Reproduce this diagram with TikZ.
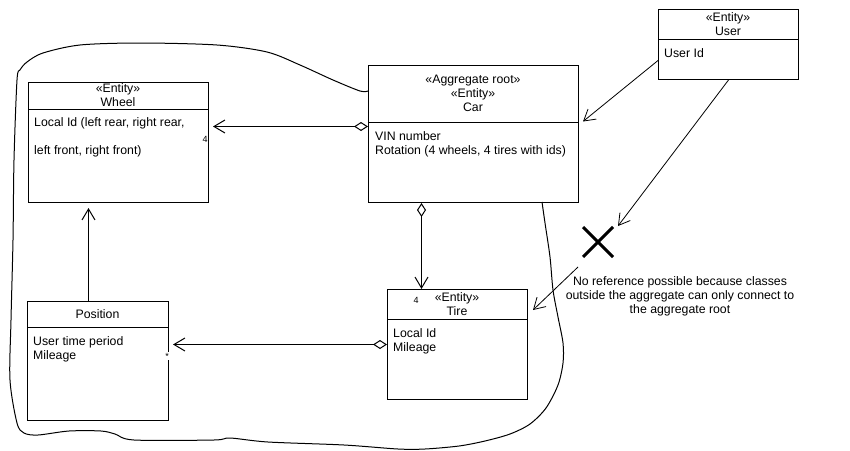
\documentclass[tikz,border=0pt]{standalone}
\usepackage{fontspec}
\setmainfont{Liberation Sans}
\usetikzlibrary{positioning,arrows.meta}

\begin{document}
\begin{tikzpicture}[
            x=1pt,y=-1pt,
            cls/.style={
                    draw,
                    rectangle,
                    line width=1pt,
                    anchor=north west,
                    inner sep=0pt
                },
            hdr/.style={
                    align=center,
                    inner sep=0pt,
                    font=\fontsize{12.3}{14}\selectfont
                },
            attr/.style={
                    align=left,
                    anchor=north west,
                    inner sep=0pt,
                    font=\fontsize{12.3}{14}\selectfont
                },
            mult/.style={
                    inner sep=1pt,
                    font=\fontsize{9}{10}\selectfont
                },
            aggr/.style={
                    line width=1pt,
                    {Diamond[open,length=14pt,width=9pt]}-{Straight Barb[length=11pt,width=13pt]},
                    shorten >=4pt
                },
            assoc/.style={
                    line width=0.8pt,
                    -{Straight Barb[length=11pt,width=13pt]}
                }
        ]
        \useasboundingbox (0,0) rectangle (850,450);

        \node[cls,minimum width=180pt,minimum height=120pt] (wheel) at (28,82) {};
        \draw[line width=1pt] (28,109) -- (208,109);
        \node[hdr] at (118,95.5) {«Entity»\\Wheel};
        \node[attr] at (34,117.5) {Local Id (left rear, right rear,\\[14pt]left front, right front)};

        \node[cls,minimum width=210pt,minimum height=137pt] (car) at (368,65) {};
        \draw[line width=1pt] (368,122) -- (578,122);
        \node[hdr] at (473,93.5) {«Aggregate root»\\«Entity»\\Car};
        \node[attr] at (375,131.5) {VIN number\\Rotation (4 wheels, 4 tires with ids)};

        \node[cls,minimum width=140pt,minimum height=70pt] (user) at (658,9) {};
        \draw[line width=1pt] (658,39) -- (798,39);
        \node[hdr] at (728,24.5) {«Entity»\\User};
        \node[attr] at (664,48.5) {User Id};

        \node[cls,minimum width=141pt,minimum height=119pt] (pos) at (27,301) {};
        \draw[line width=1pt] (27,327) -- (168,327);
        \node[hdr] at (97.5,314) {Position};
        \node[attr] at (33,336.5) {User time period\\Mileage};

        \node[cls,minimum width=140pt,minimum height=110pt] (tire) at (387,289) {};
        \draw[line width=1pt] (387,319) -- (527,319);
        \node[hdr] at (457,304.5) {«Entity»\\Tire};
        \node[attr] at (393,328.5) {Local Id\\Mileage};

        \node[hdr] (note) at (680,296) {No reference possible because classes\\outside the aggregate can only connect to\\the aggregate root};

        \coordinate (cross) at (598,242);
        \coordinate (crossNE) at (618,226);
        \coordinate (crossSW) at (578,267);
        \draw[line width=3pt] (583,227) -- (613,257) (583,257) -- (613,227);

        \draw[line width=1pt] plot[smooth,tension=0.5] coordinates {
            (368,91) (360,91) (333,80) (300,65) (267,52) (217,45) (140,43)
            (80,45) (43,53) (27,62) (20,70) (17,80) (14,160) (13,240)
            (11,320) (10,380) (17,423) (24,433) (38,435) (69,431) (101,431)
            (115,434) (134,440) (214,440) (230,438) (268,442) (344,445)
            (398,449) (425,449) (459,446) (485,441) (510,434) (530,424)
            (546,408) (558,385) (563,363) (563,343) (558,317) (553,290)
            (550,257) (545,223) (542,202)
        };

        \draw[aggr] ([yshift=7.5pt]car.west) -- ([yshift=7.5pt]car.west -| wheel.east);
        \node[mult] at (205,139) {4};
        \draw[aggr,shorten >=0pt] ([xshift=-52pt]car.south) -- ([xshift=-52pt]car.south |- tire.north);
        \node[mult] at (416,300) {4};
        \draw[aggr] (tire.west) -- (tire.west -| pos.east);
        \node[mult,fill=white] at (167,356) {*};
        \draw[line width=1pt,-{Straight Barb[length=11pt,width=13pt]},shorten >=5pt] ([xshift=-9.5pt]pos.north) -- ([xshift=-9.5pt]pos.north |- wheel.south);

        \draw[assoc] ([yshift=-16pt]user.west) -- ([shift={(4pt,12.5pt)}]car.east);
        \draw[assoc] (user.south) -- (crossNE);
        \draw[assoc] (crossSW) -- ([shift={(5pt,-21pt)}]tire.north east);
    \end{tikzpicture}
\end{document}
